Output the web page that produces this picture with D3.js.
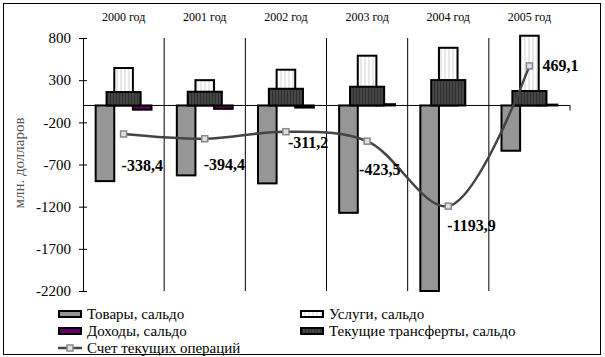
<!DOCTYPE html>
<html>
<head>
<meta charset="utf-8">
<script src="https://cdn.jsdelivr.net/npm/d3@7"></script>
<style>
  body { margin: 0; background: #fff; }
</style>
</head>
<body>
<script>
var years = ["2000 год", "2001 год", "2002 год", "2003 год", "2004 год", "2005 год"];
var goods = [-897, -829, -924, -1273, -2200, -537];
var services = [444, 300, 424, 590, 684, 827];
var income = [-50, -40, -25, 15, 0, 10];
var transfers = [159, 163, 198, 222, 301, 171];
var current = [-338.4, -394.4, -311.2, -423.5, -1193.9, 469.1];
var currentLabels = ["-338,4", "-394,4", "-311,2", "-423,5", "-1193,9", "469,1"];
var yTicks = [800, 300, -200, -700, -1200, -1700, -2200];

// manual label nudges (like dragged Excel labels)
var labelOffsets = [[-2, 31], [-1, 26], [2, 11], [-8, 28], [-1, 19], [13, -1]];

var width = 605, height = 357;
var serif = "'Liberation Serif', 'Times New Roman', 'DejaVu Serif', serif";

var svg = d3.select("body").append("svg")
    .attr("width", width)
    .attr("height", height)
    .style("font-family", serif);

var defs = svg.append("defs");
var pServ = defs.append("pattern").attr("id", "hatchServ")
    .attr("patternUnits", "userSpaceOnUse").attr("width", 4).attr("height", 4);
pServ.append("rect").attr("width", 4).attr("height", 4).attr("fill", "#fff");
pServ.append("line").attr("x1", 1).attr("x2", 1).attr("y1", 0).attr("y2", 4)
    .attr("stroke", "#c8c8c8").attr("stroke-width", 0.8);
var pTr = defs.append("pattern").attr("id", "hatchTr")
    .attr("patternUnits", "userSpaceOnUse").attr("width", 3).attr("height", 3);
pTr.append("rect").attr("width", 3).attr("height", 3).attr("fill", "#2e2e2e");
pTr.append("line").attr("x1", 1).attr("x2", 1).attr("y1", 0).attr("y2", 3)
    .attr("stroke", "#6a6a6a").attr("stroke-width", 0.8);

// frame
svg.append("rect").attr("x", 3.5).attr("y", 3.5).attr("width", 597).attr("height", 351)
    .attr("fill", "none").attr("stroke", "#000").attr("stroke-width", 1);

var x = d3.scaleBand().domain(years).range([83, 570]).padding(0);
var y = d3.scaleLinear().domain([-2200, 800]).range([291, 38]);

var xSub = d3.scaleBand().domain(["goods", "services", "income"])
    .range([0, x.bandwidth()]).paddingInner(0).paddingOuter(0.68);

// category separators
svg.append("g").selectAll("line")
    .data(years.slice(1))
  .enter().append("line")
    .attr("x1", function(d) { return x(d); })
    .attr("x2", function(d) { return x(d); })
    .attr("y1", y(800))
    .attr("y2", y(-2200))
    .attr("stroke", "#000").attr("stroke-width", 1);

// zero line
svg.append("line")
    .attr("x1", 83).attr("x2", 570)
    .attr("y1", y(0)).attr("y2", y(0))
    .attr("stroke", "#000").attr("stroke-width", 1);
svg.append("line")
    .attr("x1", 570).attr("x2", 570)
    .attr("y1", y(0)).attr("y2", y(0) + 5)
    .attr("stroke", "#000");

// top category labels
svg.append("g").selectAll("text")
    .data(years)
  .enter().append("text")
    .attr("x", function(d) { return x(d) + x.bandwidth() / 2; })
    .attr("y", 21)
    .attr("text-anchor", "middle")
    .style("font-family", serif)
    .style("font-size", "12px")
    .text(function(d) { return d; });

// y axis
var yAxis = svg.append("g")
    .attr("transform", "translate(83,0)")
    .call(d3.axisLeft(y).tickValues(yTicks)
      .tickFormat(function(d) { return String(d); })
      .tickSizeInner(4).tickSizeOuter(0).tickPadding(8));
yAxis.attr("font-family", null).attr("font-size", null);
yAxis.select(".domain").attr("stroke", "#000");
yAxis.selectAll(".tick line").attr("x1", 4).attr("x2", -4).attr("stroke", "#000");
yAxis.selectAll(".tick text")
    .style("font-family", serif)
    .style("font-size", "15px")
    .attr("fill", "#000");

svg.append("text")
    .attr("transform", "translate(24," + 163 + ") rotate(-90)")
    .attr("text-anchor", "middle")
    .attr("fill", "#555")
    .style("font-family", serif)
    .style("font-size", "15px")
    .text("млн. долларов");

function barY(v) { return Math.min(y(v), y(0)); }
function barH(v) { return Math.abs(y(v) - y(0)); }

function subBars(values, key, fill) {
  svg.append("g").selectAll("rect")
      .data(values)
    .enter().append("rect")
      .attr("x", function(d, i) { return x(years[i]) + xSub(key); })
      .attr("width", xSub.bandwidth())
      .attr("y", barY)
      .attr("height", barH)
      .attr("fill", fill)
      .attr("stroke", "#000")
      .attr("stroke-width", 2);
}
subBars(goods, "goods", "#969696");
subBars(services, "services", "url(#hatchServ)");
subBars(income, "income", "#660066");

var trW = x.bandwidth() * 0.42;
svg.append("g").selectAll("rect")
    .data(transfers)
  .enter().append("rect")
    .attr("x", function(d, i) { return x(years[i]) + x.bandwidth() / 2 - trW / 2; })
    .attr("width", trW)
    .attr("y", barY)
    .attr("height", barH)
    .attr("fill", "url(#hatchTr)")
    .attr("stroke", "#000")
    .attr("stroke-width", 2);

// current account line
var cx = function(d, i) { return x(years[i]) + x.bandwidth() / 2; };
var line = d3.line()
    .x(cx)
    .y(function(d) { return y(d); })
    .curve(d3.curveCatmullRom.alpha(0.5));
svg.append("path")
    .datum(current)
    .attr("d", line)
    .attr("fill", "none")
    .attr("stroke", "#444")
    .attr("stroke-width", 2.5);
svg.append("g").selectAll("rect")
    .data(current)
  .enter().append("rect")
    .attr("x", function(d, i) { return cx(d, i) - 3; })
    .attr("y", function(d) { return y(d) - 3; })
    .attr("width", 6).attr("height", 6)
    .attr("fill", "#e0e0e0")
    .attr("stroke", "#888")
    .attr("stroke-width", 1.5);

svg.append("g").selectAll("text")
    .data(current)
  .enter().append("text")
    .attr("x", function(d, i) { return cx(d, i) + labelOffsets[i][0]; })
    .attr("y", function(d, i) { return y(d) + labelOffsets[i][1]; })
    .attr("dy", "0.35em")
    .style("font-family", serif)
    .style("font-size", "16px")
    .style("font-weight", "bold")
    .text(function(d, i) { return currentLabels[i]; });

// legend
var legendItems = [
  { name: "Товары, сальдо", fill: "#969696", col: 0, row: 0 },
  { name: "Услуги, сальдо", fill: "url(#hatchServ)", col: 1, row: 0 },
  { name: "Доходы, сальдо", fill: "#660066", col: 0, row: 1 },
  { name: "Текущие трансферты, сальдо", fill: "url(#hatchTr)", col: 1, row: 1 },
  { name: "Счет текущих операций", line: true, col: 0, row: 2 }
];
var legendCols = [58, 300];
var legendRows = [314, 331, 348];

var lg = svg.append("g").selectAll("g")
    .data(legendItems)
  .enter().append("g")
    .attr("transform", function(d) { return "translate(" + legendCols[d.col] + "," + legendRows[d.row] + ")"; });
lg.filter(function(d) { return !d.line; }).append("rect")
    .attr("x", 1).attr("y", -3).attr("width", 22).attr("height", 6)
    .attr("fill", function(d) { return d.fill; })
    .attr("stroke", "#000").attr("stroke-width", 2);
var ll = lg.filter(function(d) { return d.line; });
ll.append("line").attr("x1", 0).attr("x2", 24).attr("y1", 0).attr("y2", 0)
    .attr("stroke", "#444").attr("stroke-width", 2.5);
ll.append("rect").attr("x", 9).attr("y", -3).attr("width", 6).attr("height", 6)
    .attr("fill", "#e0e0e0").attr("stroke", "#888").attr("stroke-width", 1.5);
lg.append("text")
    .attr("x", 29)
    .attr("dy", "0.35em")
    .style("font-family", serif)
    .style("font-size", "15px")
    .text(function(d) { return d.name; });
</script>
</body>
</html>
